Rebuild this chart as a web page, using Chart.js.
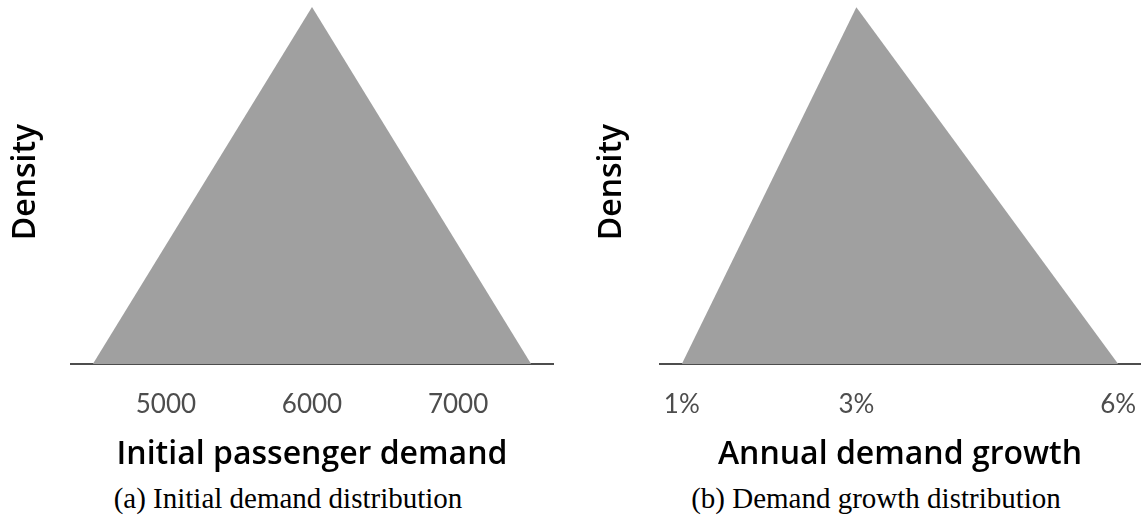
<!DOCTYPE html>
<html>
<head>
<meta charset="utf-8">
<script src="https://cdn.jsdelivr.net/npm/chart.js@4.4.0/dist/chart.umd.min.js"></script>
<style>
  html, body { margin: 0; padding: 0; background: #fff; }
  body { width: 1147px; height: 526px; position: relative; overflow: hidden; }
  .panel { position: absolute; top: 0; height: 474px; }
  .caption {
    position: absolute; top: 482px; width: 500px; text-align: center;
    font-family: "Liberation Serif", "Times New Roman", serif; font-size: 29px; color: #000;
  }
</style>
</head>
<body>
<div class="panel" style="left:0; width:574px;"><canvas id="demandChart"></canvas></div>
<div class="panel" style="left:574px; width:573px;"><canvas id="growthChart"></canvas></div>
<div class="caption" style="left:38px;">(a) Initial demand distribution</div>
<div class="caption" style="left:626px;">(b) Demand growth distribution</div>

<script>
// triangular distribution (a): min, mode, max of initial demand
const demandX = [4500, 6000, 7500];
const demandDensity = [0, 0.000667, 0];
const demandTicks = [5000, 6000, 7000];

// triangular distribution (b): annual growth in %
const growthX = [1, 3, 6];
const growthDensity = [0, 0.4, 0];
const growthTicks = [1, 3, 6];

const tickFont = { family: 'Lato', size: 26 };
const titleFont = { family: 'Open Sans', size: 32, weight: '600' };

function makeChart(id, xs, ys, ticks, opts) {
  const points = xs.map((x, i) => ({ x, y: ys[i] }));
  return new Chart(document.getElementById(id).getContext('2d'), {
    type: 'line',
    data: {
      datasets: [{
        data: points,
        fill: 'origin',
        backgroundColor: '#a0a0a0',
        borderWidth: 0,
        pointRadius: 0,
        tension: 0
      }]
    },
    options: {
      responsive: true,
      maintainAspectRatio: false,
      animation: false,
      layout: { padding: { left: 0, right: opts.padRight, top: 0, bottom: 0 } },
      plugins: { legend: { display: false }, tooltip: { enabled: false } },
      scales: {
        x: {
          type: 'linear',
          min: opts.xMin,
          max: opts.xMax,
          grid: { display: false, drawTicks: false },
          border: { display: true, color: '#4d4d4d', width: 2 },
          afterBuildTicks: scale => { scale.ticks = ticks.map(v => ({ value: v })); },
          afterFit: scale => { scale.height = 110; scale.paddingLeft = 0; scale.paddingRight = 0; },
          ticks: {
            font: tickFont,
            color: '#4d4d4d',
            padding: 25,
            maxRotation: 0,
            callback: opts.fmt
          },
          title: { display: true, text: opts.xTitle, font: titleFont, color: '#000', padding: 0 }
        },
        y: {
          min: 0,
          max: opts.yMax,
          grid: { display: false, drawTicks: false },
          border: { display: false },
          ticks: { display: false },
          afterFit: scale => { scale.width = opts.plotLeft; },
          title: { display: true, text: 'Density', font: titleFont, color: '#000', padding: { top: opts.titlePad } }
        }
      }
    }
  });
}

makeChart('demandChart', demandX, demandDensity, demandTicks, {
  xMin: 4350, xMax: 7650, yMax: 0.00068,
  padRight: 21, plotLeft: 71, titlePad: 7,
  xTitle: 'Initial passenger demand',
  fmt: v => String(v)
});

makeChart('growthChart', growthX, growthDensity, growthTicks, {
  xMin: 0.75, xMax: 6.25, yMax: 0.408,
  padRight: 7, plotLeft: 86, titlePad: 19,
  xTitle: 'Annual demand growth',
  fmt: v => v + '%'
});
</script>
</body>
</html>
